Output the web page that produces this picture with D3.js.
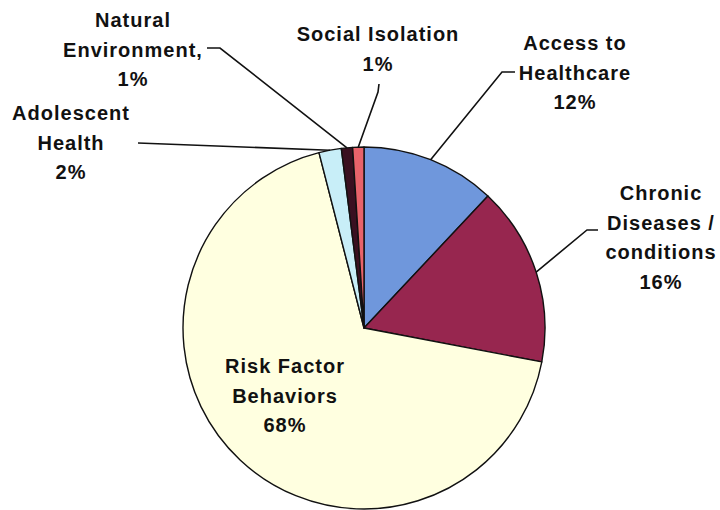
<!DOCTYPE html>
<html>
<head>
<meta charset="utf-8">
<script src="https://cdn.jsdelivr.net/npm/d3@7"></script>
<style>
  html, body { margin: 0; padding: 0; background: #fff; }
  text { font-family: "Liberation Sans", Arial, sans-serif; font-weight: bold; font-size: 20px; letter-spacing: 1px; fill: #111; }
</style>
</head>
<body>
<div id="viz"></div>
<script>
// data, clockwise from 12 o'clock
var categories = ['Access to Healthcare', 'Chronic Diseases / conditions', 'Risk Factor Behaviors',
                  'Adolescent Health', 'Natural Environment', 'Social Isolation'];
var values = [12, 16, 68, 2, 1, 1];
var labelLines = [
    ['Access to', 'Healthcare', '12%'],
    ['Chronic', 'Diseases /', 'conditions', '16%'],
    ['Risk Factor', 'Behaviors', '68%'],
    ['Adolescent', 'Health', '2%'],
    ['Natural', 'Environment,', '1%'],
    ['Social Isolation', '1%']
];
var colors = ['#6f97dc', '#97264f', '#ffffe0', '#c8eef8', '#3a1020', '#e8636a'];

var width = 720;
var height = 510;
var center = { x: 364, y: 328 };
var radius = 181;
var lineHeight = 29.5;

// label layout: x centre, first baseline, leader bend points (after pie edge)
var labelLayout = [
    { x: 575, y: 50, leader: [[502, 72], [515, 72]] },
    { x: 661, y: 200, leader: [[587, 230], [598, 230]] },
    { x: 285, y: 373, leader: null },
    { x: 71, y: 120, leader: [[138, 143]] },
    { x: 133, y: 27, leader: [[220, 48], [207, 48]] },
    { x: 378, y: 41, leader: [[378, 92], [379, 84]] }
];

var svg = d3.select('#viz').append('svg')
    .attr('width', width)
    .attr('height', height);

var pie = d3.pie().sort(null).value(function (d) { return d; });
var arcs = pie(values);

var arc = d3.arc().innerRadius(0).outerRadius(radius);

var g = svg.append('g')
    .attr('transform', 'translate(' + center.x + ',' + center.y + ')');

g.selectAll('path.slice')
    .data(arcs)
    .enter().append('path')
    .attr('class', 'slice')
    .attr('d', arc)
    .attr('fill', function (d, i) { return colors[i]; })
    .attr('stroke', '#111')
    .attr('stroke-width', 1.4)
    .attr('stroke-linejoin', 'round');

// leader lines
var line = d3.line();
arcs.forEach(function (d, i) {
    var lay = labelLayout[i];
    if (!lay.leader) return;
    var mid = (d.startAngle + d.endAngle) / 2;
    var start = [center.x + radius * Math.sin(mid), center.y - radius * Math.cos(mid)];
    var pts = [start].concat(lay.leader);
    svg.append('path')
        .attr('d', line(pts))
        .attr('fill', 'none')
        .attr('stroke', '#111')
        .attr('stroke-width', 1.6);
});

// labels
labelLines.forEach(function (lines, i) {
    var lay = labelLayout[i];
    var t = svg.append('text')
        .attr('text-anchor', 'middle')
        .attr('x', lay.x)
        .attr('y', lay.y);
    lines.forEach(function (s, j) {
        t.append('tspan')
            .attr('x', lay.x)
            .attr('y', lay.y + j * lineHeight)
            .text(s);
    });
});
</script>
</body>
</html>
